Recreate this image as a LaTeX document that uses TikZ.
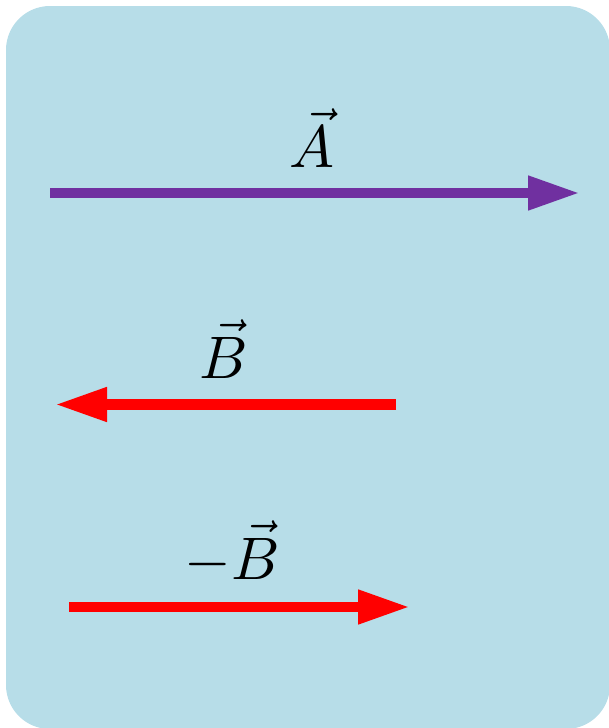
\documentclass[tikz,border=0pt]{standalone}
\usepackage{graphicx}
\usetikzlibrary{arrows.meta}
\definecolor{panelblue}{HTML}{B7DDE8}
\definecolor{vecpurple}{HTML}{7030A0}
\definecolor{vecred}{HTML}{FF0000}
\newcommand{\biglabel}[1]{\scalebox{6}{$#1$}}
\begin{document}
\begin{tikzpicture}[x=1pt,y=-1pt,
  vecarrow/.style={line width=10.5pt,-{Triangle[length=52pt,width=32pt]}},
  veclabel/.style={anchor=base,inner sep=0pt}]
\useasboundingbox (0,0) rectangle (609,728);
\fill[panelblue,rounded corners=44pt] (6,6) rectangle (610,729);
% vector A
\coordinate (a1) at (50,193);
\coordinate (a2) at (580,193);
\draw[vecarrow,vecpurple] (a1) -- (a2);
\node[veclabel] (la) at (312,167) {\biglabel{\vec{A}}};
% vector B
\coordinate (b1) at (396,404.5);
\coordinate (b2) at (55,404.5);
\draw[vecarrow,vecred] (b1) -- (b2);
\node[veclabel] (lb) at (224,378) {\biglabel{\vec{B}}};
% vector -B
\coordinate (c1) at (69,607);
\coordinate (c2) at (410,607);
\draw[vecarrow,vecred] (c1) -- (c2);
\node[veclabel] (lc) at (232,579) {\biglabel{-\vec{B}}};
\end{tikzpicture}
\end{document}
